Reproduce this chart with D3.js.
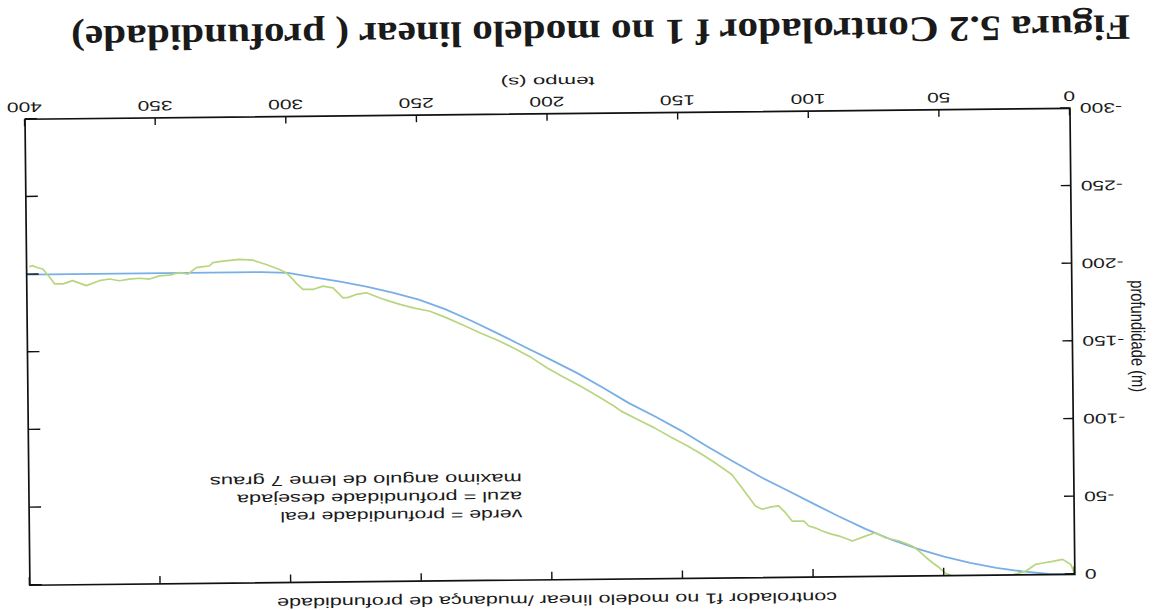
<!DOCTYPE html>
<html>
<head>
<meta charset="utf-8">
<script src="https://d3js.org/d3.v7.min.js"></script>
<style>
  html, body { margin: 0; padding: 0; background: #fff; }
  svg { display: block; }
  text { font-family: "Liberation Sans", Arial, sans-serif; fill: #1a1a1a; }
</style>
</head>
<body>
<svg id="chart" width="1155" height="610"></svg>
<script>
// Desired depth (azul) sampled over time, seconds / metres
const desiredTime  = [0, 10, 20, 30, 40, 50, 60, 70, 80, 90, 100, 110, 120, 130, 140, 150,
                      160, 170, 180, 190, 200, 210, 220, 230, 240, 250, 260, 270, 280, 290,
                      300, 310, 400];
const desiredDepth = [0, -0.5, -2.2, -4.7, -8.0, -12.2, -17.4, -23.5, -30.7, -38.8, -47.4,
                      -56.2, -64.9, -74.6, -84.6, -95.0, -104.4, -113.2, -123.4, -133.2,
                      -141.9, -150.4, -159.0, -167.3, -175.0, -181.2, -186.0, -190.0, -193.3,
                      -196.3, -199.3, -200, -200];

// Real depth (verde) of the vehicle
const realTime  = [0, 1.5, 4.6, 8.4, 12.2, 14.9, 18.8, 21.2, 24, 30, 36, 42, 47, 49.5, 51.8,
                   54.4, 57, 59.5, 62, 64.5, 67.1, 72.4, 76.2, 80, 85, 90, 93, 96.5, 99,
                   101.6, 103.5, 108, 110.5, 113.1, 116, 119.4, 122, 124.5, 127.1, 130.9,
                   137.3, 142, 147.5, 154, 160.3, 165.4, 173, 175.6, 182, 188.4, 195, 201.1,
                   207, 213.9, 220, 226.6, 233, 239.4, 245.8, 252.2, 257.2, 261, 264.9, 270,
                   273.9, 277, 279, 282.8, 286.7, 290.5, 294.3, 296.5, 298.1, 300.6, 303.2,
                   308.3, 313.4, 318.5, 324.9, 328.7, 330, 332.5, 335, 338.3, 341.5, 345.3,
                   349.2, 353, 356.8, 360.7, 364.5, 368.3, 372.2, 377.2, 382.4, 386.1,
                   389.3, 391.2, 393.8, 396, 397.6, 399];
const realDepth = [0, -6.4, -9.7, -8.5, -7.5, -6.7, -2.3, -1.3, 0, 0.6, 1.0, 0.8, 0.2, -1.5,
                   -5.1, -8.4, -12, -16.0, -19.2, -21.0, -22.6, -24.8, -28.1, -26.0, -22.9,
                   -26.2, -27.5, -29.6, -31.5, -32.9, -36.1, -36.2, -41.6, -46.0, -45.5,
                   -44.0, -46.1, -52, -58.0, -66.6, -74.2, -79.5, -85.1, -91, -97.1, -101.5,
                   -108.1, -111.3, -118, -124.4, -130.5, -136.4, -143, -149.5, -154.6,
                   -159.4, -164.5, -169.3, -173.7, -176.0, -178.3, -180.3, -182.6, -186.0,
                   -185.0, -183.2, -182.9, -189.4, -190.6, -188.5, -188.6, -192, -195.1,
                   -199.4, -201.6, -204.9, -207.8, -208.4, -207.4, -206.4, -204.3, -204.0,
                   -203.3, -199.2, -200.3, -198.7, -198.3, -196.3, -196.9, -196.4, -195.4,
                   -196.6, -195.6, -192.5, -195.8, -193.8, -193.8, -198.1, -203.5, -204.5,
                   -205.7, -205];

// Axis ticks
const timeTicks  = [0, 50, 100, 150, 200, 250, 300, 350, 400];
const depthTicks = [-300, -250, -200, -150, -100, -50, 0];

// Texts
const titleText   = "Figura 5.2 Controlador f 1 no modelo linear ( profundidade)";
const plotTitle   = "controlador f1 no modelo linear /mudança de profundidade";
const xLabel      = "tempo (s)";
const yLabel      = "profundidade (m)";
const legendLines = ["verde = profundidade real",
                     "azul = profundidade desejada",
                     "maximo angulo de leme 7 graus"];
const legendWidths = [242, 285, 312];

const W = 1155, H = 610;
const plot = { left: 83, right: 1128, top: 30.5, bottom: 496.5 };
const stretch = 1.5;   // tick lettering is set wide

const svg = d3.select("#chart");
svg.append("rect").attr("width", W).attr("height", H).attr("fill", "#fff");

// The printed page is turned upside down (slightly skewed)
const g = svg.append("g").attr("transform", `rotate(179.4, ${W / 2}, ${H / 2})`);

const x = d3.scaleLinear().domain([0, 400]).range([plot.left, plot.right]);
const y = d3.scaleLinear().domain([-300, 0]).range([plot.bottom, plot.top]);

g.append("clipPath").attr("id", "plotClip")
  .append("rect")
  .attr("x", plot.left).attr("y", plot.top)
  .attr("width", plot.right - plot.left).attr("height", plot.bottom - plot.top);

const line = d3.line().x(d => x(d[0])).y(d => y(d[1]));

const desired = desiredTime.map((t, i) => [t, desiredDepth[i]]);
const real = realTime.map((t, i) => [t, realDepth[i]]);

const curves = g.append("g").attr("clip-path", "url(#plotClip)");
curves.append("path").datum(desired)
  .attr("fill", "none").attr("stroke", "#78afe4").attr("stroke-width", 1.8)
  .attr("d", line);
curves.append("path").datum(real)
  .attr("fill", "none").attr("stroke", "#b8d67f").attr("stroke-width", 1.7)
  .attr("stroke-linejoin", "round")
  .attr("d", line);

// Axes: ticks point inwards on all four sides
const fmt = d => String(d);

const xAxis = g.append("g").attr("transform", `translate(0,${plot.bottom})`)
  .call(d3.axisBottom(x).tickValues(timeTicks).tickFormat(fmt)
        .tickSizeInner(-7).tickSizeOuter(0).tickPadding(7));
xAxis.selectAll("text")
  .attr("font-size", 14).attr("transform", `scale(${stretch},1)`);

const yAxis = g.append("g").attr("transform", `translate(${plot.left},0)`)
  .call(d3.axisLeft(y).tickValues(depthTicks).tickFormat(fmt)
        .tickSizeInner(-10).tickSizeOuter(0).tickPadding(10));
yAxis.selectAll("text")
  .attr("font-size", 14).attr("x", -10 / stretch)
  .attr("transform", `scale(${stretch},1)`);

g.append("g").attr("transform", `translate(0,${plot.top})`)
  .call(d3.axisTop(x).tickValues(timeTicks).tickFormat("")
        .tickSizeInner(-8).tickSizeOuter(0));
g.append("g").attr("transform", `translate(${plot.right},0)`)
  .call(d3.axisRight(y).tickValues(depthTicks).tickFormat("")
        .tickSizeInner(-12).tickSizeOuter(0));

g.selectAll(".domain").remove();
g.selectAll(".tick line").attr("stroke", "#111").attr("stroke-width", 1.4);

g.append("rect")
  .attr("x", plot.left).attr("y", plot.top)
  .attr("width", plot.right - plot.left).attr("height", plot.bottom - plot.top)
  .attr("fill", "none").attr("stroke", "#111").attr("stroke-width", 1.7);

// Axis labels
g.append("text")
  .attr("x", 605 - 47).attr("y", 533)
  .attr("textLength", 94).attr("lengthAdjust", "spacingAndGlyphs")
  .attr("font-size", 13)
  .text(xLabel);

g.append("text")
  .attr("transform", "translate(24,268) rotate(-90) scale(1,1.38)")
  .attr("x", -56).attr("y", 0)
  .attr("textLength", 112).attr("lengthAdjust", "spacingAndGlyphs")
  .attr("font-size", 14)
  .text(yLabel);

// Plot heading
g.append("text")
  .attr("x", 601 - 280).attr("y", 15)
  .attr("textLength", 560).attr("lengthAdjust", "spacingAndGlyphs")
  .attr("font-size", 14.5)
  .text(plotTitle);

// Note inside the axes
g.append("g").selectAll("text").data(legendLines).join("text")
  .attr("x", 635)
  .attr("y", (d, i) => 101 + i * 18)
  .attr("textLength", (d, i) => legendWidths[i])
  .attr("lengthAdjust", "spacingAndGlyphs")
  .attr("font-size", 14.5)
  .text(d => d);

// Figure caption
g.append("text")
  .attr("x", 22).attr("y", 589)
  .attr("textLength", 1059).attr("lengthAdjust", "spacingAndGlyphs")
  .style("font-family", "'Liberation Serif', 'Times New Roman', serif")
  .attr("font-weight", "bold").attr("font-size", 36)
  .text(titleText);
</script>
</body>
</html>
